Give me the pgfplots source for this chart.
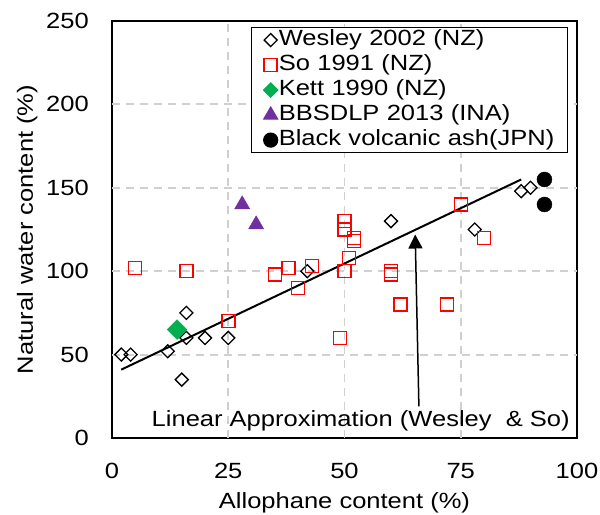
\documentclass[border=0pt]{standalone}
\usepackage{fontspec}
\setmainfont{Liberation Sans}[FakeStretch=1.16]
\usepackage{pgfplots}
\pgfplotsset{compat=1.18}
\usetikzlibrary{arrows.meta}
\definecolor{xlred}{HTML}{FF0000}
\definecolor{xlgreen}{HTML}{00B050}
\definecolor{xlpurple}{HTML}{7030A0}
\definecolor{gridgray}{HTML}{D0D0D0}
\pgfplotsset{gridline/.style={draw=gridgray, line width=1.8bp, dash pattern=on 8bp off 6bp, no marks, forget plot}}
\begin{document}
\begin{tikzpicture}[font=\fontsize{22bp}{26bp}\selectfont]
\path[use as bounding box] (-112bp,-77bp) rectangle (488bp,438bp);
\begin{axis}[
  at={(0,0)}, anchor=south west,
  scale only axis, width=465bp, height=417bp,
  xmin=0, xmax=100, ymin=0, ymax=250,
  xtick={0,25,50,75,100}, ytick={0,50,100,150,200,250},
  /pgf/number format/assume math mode=true,
  major tick length=0pt,
  axis line style={line width=2bp, black},
  yticklabel style={anchor=east, inner sep=0pt, xshift=-23bp},
  xticklabel style={anchor=base, inner sep=0pt, yshift=-40bp},
  xlabel={Allophane content (\%)},
  ylabel={Natural water content (\%)},
  xlabel style={at={(axis description cs:0.5,-0.168)}, anchor=base, inner sep=0pt},
  ylabel style={at={(axis description cs:-0.1699,0.5)}, anchor=base, inner sep=0pt},
  legend cell align=left,
  legend style={at={(rel axis cs:0.299,0.9856)}, anchor=north west,
    draw=black, line width=1.2bp, inner xsep=12bp, inner ysep=1bp,
    row sep=2bp,
    nodes={inner sep=1bp, text height=16bp, text depth=5bp, text width=276bp},
    /tikz/every even column/.append style={column sep=5bp}},
]
% grid lines
\addplot[gridline] coordinates {(25,0) (25,250)};
\addplot[gridline] coordinates {(50,0) (50,250)};
\addplot[gridline] coordinates {(75,0) (75,250)};
\addplot[gridline] coordinates {(0,50) (100,50)};
\addplot[gridline] coordinates {(0,100) (100,100)};
\addplot[gridline] coordinates {(0,150) (100,150)};
\addplot[gridline] coordinates {(0,200) (100,200)};

\addplot[black, line width=2bp, no marks, forget plot] coordinates {(2,41) (88,155)};

\addplot[only marks, mark=square, mark size=4.6bp,
  mark options={rotate=45, line width=1.3bp, draw=black, fill=white}]
  coordinates {(2,50) (4,50) (12,52) (15,35) (16,60) (16,75) (20,60) (25,60)
  (42,100) (60,130) (78,125) (88,148) (90,150)};
\addlegendentry{Wesley 2002 (NZ)}

\addplot[only marks, mark=square, mark size=6.5bp,
  mark options={line width=1.5bp, draw=xlred, fill=none}]
  coordinates {(5,102) (16,100) (25,70) (35,98) (38,102) (40,90) (43,103)
  (50,130) (50,125) (52,120) (52,118) (51,108) (50,100) (49,60) (60,100)
  (60,98) (62,80) (72,80) (75,140) (80,120)};
\addlegendentry{So 1991 (NZ)}

\addplot[only marks, mark=square*, mark size=7bp,
  mark options={rotate=45, draw=xlgreen, fill=xlgreen},
  legend image post style={mark size=5bp}]
  coordinates {(14,65)};
\addlegendentry{Kett 1990 (NZ)}

\addplot[only marks, mark=triangle*, mark size=8.7bp,
  mark options={draw=xlpurple, fill=xlpurple},
  legend image post style={mark size=8bp}]
  coordinates {(28,140) (31,128)};
\addlegendentry{BBSDLP 2013 (INA)}

\addplot[only marks, mark=*, mark size=7.5bp,
  mark options={draw=black, fill=black},
  legend image post style={mark size=7bp}]
  coordinates {(93,155) (93,140)};
\addlegendentry{Black volcanic ash(JPN)}

\draw[line width=1.5bp, -{Triangle[width=14bp,length=14bp]}] (axis cs:66,19) -- (axis cs:65.2,122);
\node[anchor=base west, inner sep=0pt] at (axis cs:8.5,6.6) {Linear Approximation (Wesley\ \ \& So)};
\end{axis}
\end{tikzpicture}
\end{document}
